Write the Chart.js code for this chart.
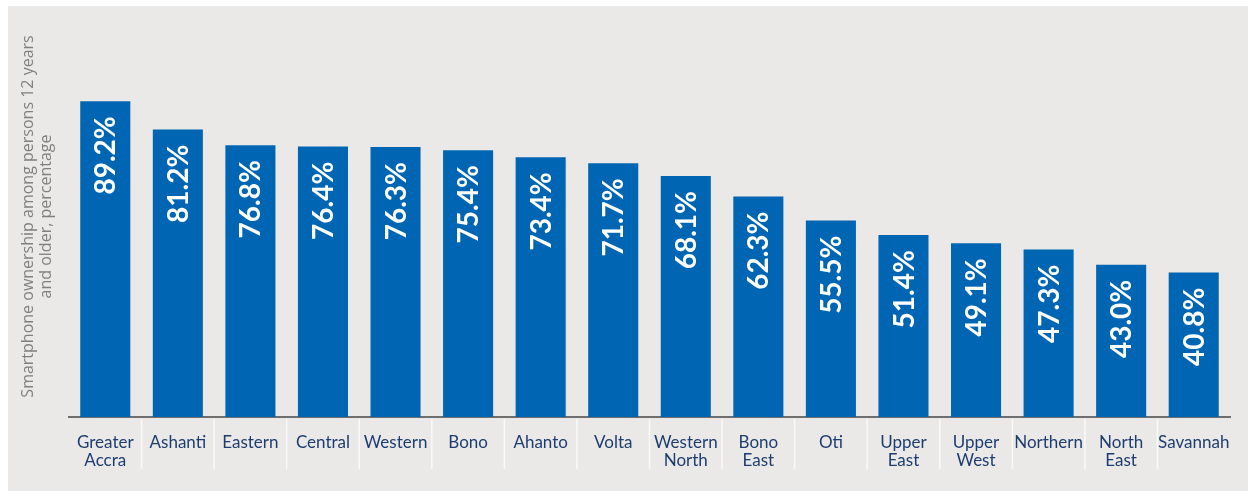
<!DOCTYPE html>
<html>
<head>
<meta charset="utf-8">
<script src="https://cdn.jsdelivr.net/npm/chart.js@4/dist/chart.umd.min.js"></script>
<style>
  html, body { margin: 0; padding: 0; background: #ffffff; }
  #wrap { position: absolute; left: 8px; top: 6px; width: 1240px; height: 485px; background: #ebe9e7; }
  canvas { display: block; }
</style>
</head>
<body>
<div id="wrap"><canvas id="c" width="1240" height="485"></canvas></div>
<script>
const categories = [
  ["Greater", "Accra"], "Ashanti", "Eastern", "Central", "Western", "Bono", "Ahanto", "Volta",
  ["Western", "North"], ["Bono", "East"], "Oti", ["Upper", "East"], ["Upper", "West"],
  "Northern", ["North", "East"], "Savannah"
];
const ownershipPct = [89.2, 81.2, 76.8, 76.4, 76.3, 75.4, 73.4, 71.7, 68.1, 62.3, 55.5, 51.4, 49.1, 47.3, 43.0, 40.8];
const yAxisTitle = ["Smartphone ownership among persons 12 years", "and older, percentage"];

const barLabelPlugin = {
  id: 'barLabels',
  afterDatasetsDraw(chart) {
    const ctx = chart.ctx;
    const meta = chart.getDatasetMeta(0);
    ctx.save();
    ctx.fillStyle = '#ffffff';
    ctx.font = 'bold 28px Lato, "Open Sans", sans-serif';
    ctx.textAlign = 'right';
    ctx.textBaseline = 'middle';
    meta.data.forEach((bar, i) => {
      const v = chart.data.datasets[0].data[i];
      ctx.save();
      ctx.translate(bar.x, bar.y + 15);
      ctx.rotate(-Math.PI / 2);
      ctx.fillText(v.toFixed(1) + '%', 0, 1);
      ctx.restore();
    });
    ctx.restore();
  }
};

const separatorPlugin = {
  id: 'separators',
  afterDraw(chart) {
    const ctx = chart.ctx;
    const xs = chart.scales.x;
    const y0 = chart.chartArea.bottom + 2;
    ctx.save();
    ctx.strokeStyle = '#f9f9f9';
    ctx.lineWidth = 1.5;
    for (let i = 1; i < categories.length; i++) {
      const x = (xs.getPixelForValue(i - 1) + xs.getPixelForValue(i)) / 2;
      ctx.beginPath();
      ctx.moveTo(x, y0);
      ctx.lineTo(x, y0 + 50);
      ctx.stroke();
    }
    ctx.restore();
  }
};

new Chart(document.getElementById('c'), {
  type: 'bar',
  data: {
    labels: categories,
    datasets: [{
      data: ownershipPct,
      backgroundColor: '#0066b3',
      borderWidth: 0,
      barPercentage: 0.69,
      categoryPercentage: 1.0
    }]
  },
  options: {
    responsive: false,
    animation: false,
    devicePixelRatio: 1,
    layout: { padding: { left: 0, right: 18, top: 10, bottom: 4 } },
    plugins: { legend: { display: false }, tooltip: { enabled: false } },
    scales: {
      x: {
        offset: true,
        grid: {
          offset: true,
          display: true,
          drawOnChartArea: false,
          drawTicks: false,
          color: 'rgba(0,0,0,0)'
        },
        border: { display: true, color: '#6e6e6e', width: 2 },
        ticks: {
          padding: 17,
          color: '#1e3d6f',
          font: { family: 'Lato, "Open Sans", sans-serif', size: 17, lineHeight: 1.06 },
          maxRotation: 0,
          autoSkip: false
        }
      },
      y: {
        min: 0,
        max: 113.3,
        grid: { display: false, drawTicks: false },
        border: { display: false },
        ticks: { display: false },
        title: {
          display: true,
          text: yAxisTitle,
          color: '#808080',
          font: { family: '"Open Sans", sans-serif', size: 16, lineHeight: 1.125 },
          padding: { top: 11.5, bottom: 13.5 }
        }
      }
    }
  },
  plugins: [barLabelPlugin, separatorPlugin]
});
</script>
</body>
</html>
